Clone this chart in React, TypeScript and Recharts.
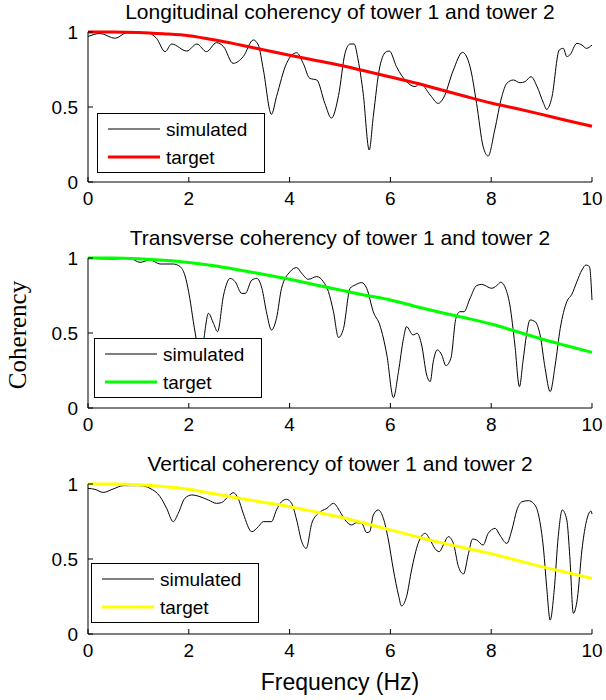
import React from "react";
import { LineChart, Line, XAxis, YAxis, Legend } from "recharts";

// ---------- data ----------
const xTicks = [0, 2, 4, 6, 8, 10];
const yTicks = [0, 0.5, 1];

const titles = [
  "Longitudinal coherency of tower 1 and tower 2",
  "Transverse coherency of tower 1 and tower 2",
  "Vertical coherency of tower 1 and tower 2",
];
const seriesNames = ["simulated", "target"];
const xLabel = "Frequency (Hz)";
const yLabel = "Coherency";

const targetHz = [0, 0.5, 1, 1.5, 2, 2.5, 3, 3.5, 4, 4.5, 5, 5.5, 6, 6.5, 7, 7.5, 8, 8.5, 9, 9.5, 10];
const target1 = [1.0, 1.0, 0.997, 0.988, 0.975, 0.948, 0.915, 0.88, 0.845, 0.812, 0.778, 0.74, 0.7, 0.66, 0.615, 0.57, 0.527, 0.49, 0.451, 0.41, 0.372];
const target2 = [1.0, 1.0, 0.995, 0.985, 0.97, 0.948, 0.92, 0.89, 0.858, 0.822, 0.787, 0.752, 0.72, 0.677, 0.637, 0.6, 0.56, 0.51, 0.46, 0.415, 0.371];
const target3 = [1.0, 1.0, 0.995, 0.984, 0.965, 0.935, 0.905, 0.877, 0.849, 0.815, 0.78, 0.738, 0.694, 0.651, 0.609, 0.572, 0.536, 0.492, 0.449, 0.41, 0.371];

const sim1Hz = [
  0, 0.24, 0.54, 0.77, 1.16, 1.36, 1.53, 1.66, 1.96, 2.16,
  2.35, 2.55, 2.69, 2.88, 3.08, 3.28, 3.38, 3.48, 3.64, 3.74,
  3.94, 4.14, 4.27, 4.4, 4.54, 4.7, 4.83, 4.97, 5.1, 5.2,
  5.28, 5.36, 5.46, 5.58, 5.66, 5.79, 5.92, 5.98, 6.12, 6.32,
  6.49, 6.59, 6.79, 6.95, 7.05, 7.25, 7.43, 7.58, 7.71, 7.84,
  7.94, 8.07, 8.21, 8.31, 8.44, 8.57, 8.67, 8.79, 8.91, 9.04,
  9.1, 9.2, 9.35, 9.43, 9.5, 9.56, 9.7, 9.8, 9.89, 10.0,
];
const sim1 = [
  0.97, 0.99, 0.958, 0.995, 0.995, 0.958, 0.869, 0.92, 0.873, 0.92,
  0.869, 0.929, 0.902, 0.791, 0.836, 0.947, 0.913, 0.747, 0.451, 0.569,
  0.791, 0.862, 0.791, 0.691, 0.68, 0.524, 0.426, 0.575, 0.858, 0.92,
  0.92, 0.813, 0.591, 0.213, 0.436, 0.769, 0.869, 0.873, 0.769, 0.669,
  0.636, 0.658, 0.58, 0.524, 0.558, 0.747, 0.864, 0.769, 0.524, 0.236,
  0.173, 0.347, 0.569, 0.658, 0.68, 0.662, 0.669, 0.702, 0.636, 0.524,
  0.484, 0.558, 0.88, 0.891, 0.836, 0.847, 0.924, 0.913, 0.891, 0.913,
];

const sim2Hz = [
  0, 0.5, 0.83, 1.03, 1.23, 1.43, 1.69, 1.83, 1.92, 2.02,
  2.09, 2.17, 2.23, 2.29, 2.39, 2.49, 2.57, 2.69, 2.82, 2.92,
  3.05, 3.12, 3.25, 3.35, 3.45, 3.54, 3.64, 3.74, 3.84, 4.01,
  4.14, 4.24, 4.37, 4.54, 4.67, 4.77, 4.87, 4.97, 5.07, 5.2,
  5.3, 5.43, 5.53, 5.66, 5.79, 5.93, 6.06, 6.16, 6.26, 6.32,
  6.45, 6.53, 6.62, 6.72, 6.79, 6.85, 6.93, 7.02, 7.1, 7.2,
  7.3, 7.38, 7.46, 7.58, 7.71, 7.81, 8.01, 8.11, 8.19, 8.27,
  8.37, 8.47, 8.56, 8.63, 8.7, 8.77, 8.87, 8.97, 9.07, 9.17,
  9.27, 9.37, 9.5, 9.6, 9.7, 9.8, 9.88, 9.95, 10.0,
];
const sim2 = [
  0.998, 0.993, 0.998, 0.971, 0.987, 0.96, 0.96, 0.942, 0.887, 0.731,
  0.576, 0.42, 0.33, 0.442, 0.631, 0.564, 0.509, 0.753, 0.864, 0.842,
  0.764, 0.764, 0.853, 0.864, 0.798, 0.642, 0.52, 0.598, 0.798, 0.909,
  0.936, 0.898, 0.858, 0.876, 0.842, 0.776, 0.642, 0.47, 0.531, 0.798,
  0.82, 0.836, 0.798, 0.642, 0.553, 0.353, 0.069, 0.242, 0.464, 0.542,
  0.487, 0.498, 0.42, 0.22, 0.176, 0.309, 0.387, 0.353, 0.282, 0.331,
  0.598, 0.642, 0.642, 0.731, 0.816, 0.824, 0.798, 0.816, 0.838, 0.809,
  0.687, 0.42, 0.142, 0.309, 0.487, 0.587, 0.576, 0.487, 0.264, 0.109,
  0.287, 0.531, 0.709, 0.758, 0.842, 0.92, 0.953, 0.942, 0.72,
];

const sim3Hz = [
  0, 0.14, 0.3, 0.5, 0.7, 1.03, 1.23, 1.43, 1.56, 1.69,
  1.79, 1.92, 2.06, 2.22, 2.39, 2.55, 2.65, 2.78, 2.88, 2.98,
  3.08, 3.25, 3.38, 3.48, 3.64, 3.74, 3.84, 3.94, 4.04, 4.14,
  4.24, 4.33, 4.44, 4.57, 4.74, 4.87, 5.0, 5.1, 5.23, 5.33,
  5.43, 5.53, 5.59, 5.66, 5.76, 5.86, 5.96, 6.06, 6.16, 6.22,
  6.32, 6.42, 6.55, 6.69, 6.79, 6.88, 6.97, 7.05, 7.15, 7.25,
  7.35, 7.45, 7.55, 7.63, 7.71, 7.84, 7.94, 8.08, 8.17, 8.31,
  8.41, 8.51, 8.61, 8.74, 8.84, 8.94, 9.04, 9.1, 9.17, 9.25,
  9.33, 9.41, 9.5, 9.56, 9.63, 9.71, 9.8, 9.88, 9.98, 10.0,
];
const sim3 = [
  0.971, 0.964, 0.944, 0.967, 0.989, 0.989, 0.971, 0.916, 0.838, 0.749,
  0.804, 0.904, 0.927, 0.916, 0.893, 0.871, 0.876, 0.916, 0.942, 0.904,
  0.804, 0.682, 0.716, 0.749, 0.749, 0.827, 0.882, 0.898, 0.871, 0.76,
  0.616, 0.571, 0.738, 0.804, 0.838, 0.871, 0.816, 0.76, 0.727, 0.742,
  0.738, 0.676, 0.682, 0.793, 0.827, 0.771, 0.627, 0.427, 0.26, 0.187,
  0.249, 0.427, 0.604, 0.671, 0.627, 0.571, 0.549, 0.593, 0.649, 0.604,
  0.449, 0.4, 0.538, 0.633, 0.627, 0.593, 0.671, 0.704, 0.66, 0.604,
  0.693, 0.827, 0.882, 0.889, 0.871, 0.793, 0.56, 0.316, 0.093, 0.293,
  0.649, 0.827, 0.76, 0.516, 0.138, 0.238, 0.56, 0.738, 0.82, 0.8,
];

const targetColors = ["#ff0000", "#00ff00", "#ffff00"];

// ---------- layout ----------
const W = 606;
const PANEL_H = 226;
const SANS = "'Liberation Sans', Arial, Helvetica, sans-serif";
const SERIF = "'Liberation Serif', 'Times New Roman', serif";

const toPoints = (hz: number[], vals: number[]) => hz.map((f, i) => ({ f, v: vals[i] }));

const panels = [
  { sim: toPoints(sim1Hz, sim1), tgt: toPoints(targetHz, target1), color: targetColors[0], legendLeft: 97, legendTop: 113 },
  { sim: toPoints(sim2Hz, sim2), tgt: toPoints(targetHz, target2), color: targetColors[1], legendLeft: 94, legendTop: 112 },
  { sim: toPoints(sim3Hz, sim3), tgt: toPoints(targetHz, target3), color: targetColors[2], legendLeft: 91, legendTop: 111 },
];

const LEG_W = 168;
const LEG_H = 60;

function LegendBox({ color }: { color: string }) {
  return (
    <svg width={LEG_W} height={LEG_H} style={{ display: "block" }}>
      <rect x={0.5} y={0.5} width={LEG_W - 1} height={LEG_H - 1} fill="#fff" stroke="#000" strokeWidth={1} />
      <line x1={11} x2={63} y1={16} y2={16} stroke="#000" strokeWidth={1} />
      <text x={69} y={23} fontSize={19} fontFamily={SANS} fill="#000">{seriesNames[0]}</text>
      <line x1={11} x2={63} y1={44} y2={44} stroke={color} strokeWidth={3} />
      <text x={69} y={51} fontSize={19} fontFamily={SANS} fill="#000">{seriesNames[1]}</text>
    </svg>
  );
}

const tickStyle = { fill: "#000", fontSize: 19, fontFamily: SANS };

function Panel({ idx }: { idx: number }) {
  const p = panels[idx];
  return (
    <div style={{ position: "absolute", left: 0, top: idx * PANEL_H, width: W, height: PANEL_H }}>
      <LineChart width={W} height={PANEL_H} margin={{ top: 32, right: 14, bottom: 0, left: 0 }}>
        <XAxis
          xAxisId="b"
          dataKey="f"
          type="number"
          domain={[0, 10]}
          ticks={xTicks}
          orientation="bottom"
          height={44}
          tickSize={-5}
          tickMargin={15}
          stroke="#000"
          tick={tickStyle}
          interval={0}
        />
        <XAxis
          xAxisId="t"
          dataKey="f"
          type="number"
          domain={[0, 10]}
          ticks={xTicks}
          orientation="top"
          height={0}
          tickSize={-5}
          stroke="#000"
          tickFormatter={() => ""}
          interval={0}
        />
        <YAxis
          yAxisId="l"
          type="number"
          domain={[0, 1]}
          ticks={yTicks}
          width={88}
          tickSize={-5}
          tickMargin={15}
          stroke="#000"
          tick={tickStyle}
          interval={0}
        />
        <YAxis
          yAxisId="r"
          type="number"
          orientation="right"
          domain={[0, 1]}
          ticks={yTicks}
          width={0}
          tickSize={-5}
          stroke="#000"
          tickFormatter={() => ""}
          interval={0}
        />
        <Line
          xAxisId="b"
          yAxisId="l"
          data={p.sim}
          dataKey="v"
          type="monotone"
          stroke="#000"
          strokeWidth={1}
          dot={false}
          activeDot={false}
          isAnimationActive={false}
          name={seriesNames[0]}
        />
        <Line
          xAxisId="b"
          yAxisId="l"
          data={p.tgt}
          dataKey="v"
          type="monotone"
          stroke={p.color}
          strokeWidth={3}
          dot={false}
          activeDot={false}
          isAnimationActive={false}
          name={seriesNames[1]}
        />
        <Legend
          layout="vertical"
          align="center"
          verticalAlign="middle"
          content={() => <LegendBox color={p.color} />}
          wrapperStyle={{ left: p.legendLeft, top: p.legendTop, width: LEG_W, height: LEG_H }}
        />
      </LineChart>
    </div>
  );
}

export default function App() {
  return (
    <div style={{ position: "absolute", left: 0, top: 0, width: W, height: 700, background: "#fff" }}>
      <Panel idx={0} />
      <Panel idx={1} />
      <Panel idx={2} />
      <svg width={W} height={700} style={{ position: "absolute", left: 0, top: 0, pointerEvents: "none" }}>
        {titles.map((t, i) => (
          <text key={t} x={340} y={18.5 + i * PANEL_H} textAnchor="middle" fontSize={21} fontFamily={SANS} fill="#000">
            {t}
          </text>
        ))}
        <text x={340} y={689.5} textAnchor="middle" fontSize={23} fontFamily={SANS} fill="#000">
          {xLabel}
        </text>
        <text
          x={0}
          y={0}
          transform="translate(25.5,335) rotate(-90)"
          textAnchor="middle"
          fontSize={25}
          fontFamily={SERIF}
          fill="#000"
        >
          {yLabel}
        </text>
      </svg>
    </div>
  );
}
